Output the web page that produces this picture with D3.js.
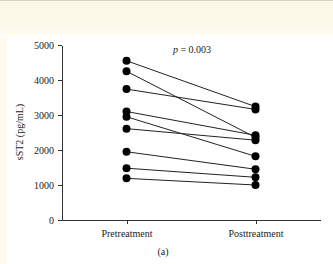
<!DOCTYPE html>
<html lang="en">
  <head>
    <meta charset="utf-8">
    <title>sST2 pre/post treatment</title>
    <style type="text/css">
body {
  margin: 0;
  background: #fff;
}

svg {
  font-family: "Liberation Serif", "DejaVu Serif", serif;
  display: block;
}

.axis path, .axis line {
  fill: none;
  stroke: #333;
  shape-rendering: crispEdges;
}

.axis text {
  font-family: "Liberation Serif", "DejaVu Serif", serif;
  font-size: 10px;
  fill: #222;
}
    </style>
  </head>
  <body>
    <div id="mainCanvas"></div>

    <script src="https://cdnjs.cloudflare.com/ajax/libs/d3/7.8.5/d3.min.js"></script>
    <script>
      // data
      var groups = ["Pretreatment", "Posttreatment"];
      var preValues = [4550, 4250, 3740, 3100, 2950, 2610, 1950, 1480, 1190];
      var postValues = [3240, 2360, 3160, 2420, 1820, 2280, 1450, 1220, 1000];
      var yTicks = [0, 1000, 2000, 3000, 4000, 5000];
      var yLabel = "sST2 (pg/mL)";
      var pText = " = 0.003";
      var panelLabel = "(a)";

      var W = 333, H = 264;
      var margin = {top: 45, right: 13, bottom: 45, left: 62};
      var width = W - margin.left - margin.right;
      var height = H - margin.top - margin.bottom;

      var svg = d3.select("#mainCanvas").append("svg")
          .attr("width", W)
          .attr("height", H);

      // cream header band + left strip
      var grad = svg.append("defs").append("linearGradient")
          .attr("id", "band")
          .attr("x1", 0).attr("y1", 0).attr("x2", 0).attr("y2", 1);
      grad.append("stop").attr("offset", "0%").attr("stop-color", "#fcf8e6");
      grad.append("stop").attr("offset", "75%").attr("stop-color", "#fdf9ea");
      grad.append("stop").attr("offset", "100%").attr("stop-color", "#fffef9");

      svg.append("rect").attr("x", 0).attr("y", 0).attr("width", W).attr("height", 38).attr("fill", "url(#band)");
      svg.append("rect").attr("x", 0).attr("y", 38).attr("width", 7).attr("height", H - 38).attr("fill", "#fdfaee");
      svg.append("line").attr("x1", 0).attr("x2", W).attr("y1", 0.5).attr("y2", 0.5).attr("stroke", "#d8d2c0");

      var g = svg.append("g")
          .attr("transform", "translate(" + margin.left + "," + margin.top + ")");

      var x = d3.scalePoint()
          .domain(groups)
          .range([0, width])
          .padding(0.5);

      var y = d3.scaleLinear()
          .domain([0, 5000])
          .range([height + 1, 0]);

      var xAxis = d3.axisBottom(x).tickSize(4).tickSizeOuter(0).tickPadding(6);
      var yAxis = d3.axisLeft(y).tickValues(yTicks).tickFormat(d3.format("d"))
          .tickSize(4).tickSizeOuter(0).tickPadding(4);

      g.append("g")
          .attr("class", "x axis")
          .attr("transform", "translate(0," + (height + 1) + ")")
          .call(xAxis)
          .attr("font-family", null);

      g.append("g")
          .attr("class", "y axis")
          .call(yAxis)
          .attr("font-family", null);

      var pairs = preValues.map(function(v, i) { return {pre: v, post: postValues[i]}; });

      g.append("g").selectAll("line")
        .data(pairs)
        .enter()
        .append("line")
          .attr("x1", x(groups[0]))
          .attr("x2", x(groups[1]))
          .attr("y1", function(d) { return y(d.pre); })
          .attr("y2", function(d) { return y(d.post); })
          .attr("stroke", "#222")
          .attr("stroke-width", 1);

      var dots = g.append("g");
      dots.selectAll("circle.pre")
        .data(preValues)
        .enter()
        .append("circle")
          .attr("class", "pre")
          .attr("cx", x(groups[0]))
          .attr("cy", function(d) { return y(d); })
          .attr("r", 4)
          .attr("fill", "#000");

      dots.selectAll("circle.post")
        .data(postValues)
        .enter()
        .append("circle")
          .attr("class", "post")
          .attr("cx", x(groups[1]))
          .attr("cy", function(d) { return y(d); })
          .attr("r", 4)
          .attr("fill", "#000");

      var p = g.append("text")
          .attr("x", 130)
          .attr("y", 8)
          .attr("text-anchor", "middle")
          .style("font-size", "10px")
          .attr("fill", "#222");
      p.append("tspan").style("font-style", "italic").text("p");
      p.append("tspan").text(pText);

      svg.append("text")
          .attr("text-anchor", "middle")
          .attr("transform", "translate(23," + (margin.top + height / 2) + ")rotate(-90)")
          .style("font-size", "10px")
          .attr("fill", "#222")
          .text(yLabel);

      svg.append("text")
          .attr("text-anchor", "middle")
          .attr("x", 163)
          .attr("y", 255)
          .style("font-size", "10px")
          .attr("fill", "#222")
          .text(panelLabel);
    </script>
  </body>
</html>
